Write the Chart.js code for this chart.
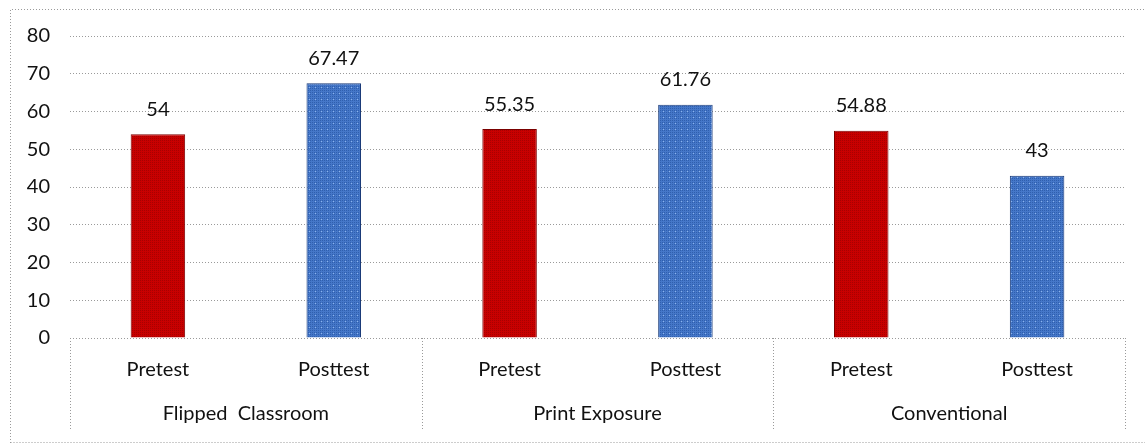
<!DOCTYPE html>
<html>
<head>
<meta charset="utf-8">
<script src="https://cdn.jsdelivr.net/npm/chart.js@4.4.0/dist/chart.umd.min.js"></script>
<style>
html, body { margin: 0; padding: 0; background: #fff; }
#wrap { position: absolute; left: 0; top: 0; width: 1145px; height: 444px; }
</style>
</head>
<body>
<div id="wrap"><canvas id="myChart" width="1145" height="444"></canvas></div>
<script>
const groups = ['Flipped  Classroom', 'Print Exposure', 'Conventional'];
const tests = ['Pretest', 'Posttest'];
const pretest = [54, 55.35, 54.88];
const posttest = [67.47, 61.76, 43];
const yTicks = [0, 10, 20, 30, 40, 50, 60, 70, 80];

const ctx = document.getElementById('myChart').getContext('2d');
const FONT = 'Lato, "Noto Sans", sans-serif';
const FSIZE = 20;
const TXT = '#111111';

// small textures like the office fill patterns
function makePattern(base, dot, light) {
    const c = document.createElement('canvas');
    c.width = 6; c.height = 6;
    const g = c.getContext('2d');
    g.fillStyle = base; g.fillRect(0, 0, 6, 6);
    g.fillStyle = dot;
    for (let y = 0; y < 6; y += 2)
        for (let x = 0; x < 6; x += 2) g.fillRect(x, y, 1, 1);
    if (light) { g.fillStyle = light; g.fillRect(3, 3, 1, 1); }
    return ctx.createPattern(c, 'repeat');
}
const redFill = makePattern('#c80000', '#a80000', null);
const blueFill = makePattern('#4577c8', '#2f5fae', '#8fb4e8');

// build the flat category table from the groups
let labels = [], values = [], fills = [], borders = [];
groups.forEach((g, i) => {
    labels.push(tests[0]); values.push(pretest[i]); fills.push(redFill); borders.push('#7a0000');
    labels.push(tests[1]); values.push(posttest[i]); fills.push(blueFill); borders.push('#1a3a78');
});

const dotted = '#9a9a9a';

const framePlugin = {
    id: 'frame',
    beforeDraw(chart) {
        const c = chart.ctx;
        c.save();
        c.strokeStyle = dotted;
        c.lineWidth = 1;
        c.setLineDash([1, 2]);
        c.beginPath();
        c.moveTo(10.5, 443); c.lineTo(10.5, 9.5); c.lineTo(1145, 9.5);
        c.moveTo(10.5, 442.5); c.lineTo(1145, 442.5);
        c.stroke();
        c.restore();
    },
    afterDraw(chart) {
        const c = chart.ctx;
        const x = chart.scales.x;
        const area = chart.chartArea;
        const half = (x.getPixelForTick(1) - x.getPixelForTick(0)) / 2;
        c.save();
        c.strokeStyle = dotted;
        c.setLineDash([1, 2]);
        c.beginPath();
        for (let i = 0; i <= groups.length; i++) {
            let px = i < groups.length ? x.getPixelForTick(i * 2) - half : x.getPixelForTick(labels.length - 1) + half;
            px = Math.round(px) + 0.5;
            c.moveTo(px, area.bottom);
            c.lineTo(px, 431);
        }
        c.stroke();
        c.setLineDash([]);
        c.fillStyle = TXT;
        c.font = FSIZE + 'px ' + FONT;
        c.textAlign = 'center';
        c.textBaseline = 'middle';
        groups.forEach((g, i) => {
            const cx = (x.getPixelForTick(i * 2) + x.getPixelForTick(i * 2 + 1)) / 2;
            c.fillText(g, cx, 414);
        });
        // value labels above the bars
        const meta = chart.getDatasetMeta(0);
        meta.data.forEach((bar, i) => {
            c.fillText(String(values[i]), bar.x, bar.y - 25);
        });
        c.restore();
    }
};

const myChart = new Chart(ctx, {
    type: 'bar',
    data: {
        labels: labels,
        datasets: [{
            data: values,
            backgroundColor: fills,
            borderColor: borders,
            borderWidth: 1,
            categoryPercentage: 1.0,
            barPercentage: 0.31
        }]
    },
    options: {
        responsive: false,
        animation: false,
        devicePixelRatio: 1,
        layout: { padding: { top: 36, right: 20, left: 0, bottom: 0 } },
        plugins: { legend: { display: false }, tooltip: { enabled: false } },
        scales: {
            x: {
                grid: { display: false, drawTicks: false },
                border: { display: false },
                ticks: { color: TXT, font: { family: FONT, size: FSIZE }, padding: 20, maxRotation: 0 },
                afterFit(scale) { scale.height = 106; }
            },
            y: {
                min: yTicks[0],
                max: yTicks[yTicks.length - 1],
                afterBuildTicks(scale) { scale.ticks = yTicks.map(v => ({ value: v })); },
                grid: { color: dotted, lineWidth: 1, drawTicks: false },
                border: { display: false, dash: [1, 2] },
                ticks: { color: TXT, font: { family: FONT, size: FSIZE }, padding: 20 },
                afterFit(scale) { scale.width = 70; }
            }
        }
    },
    plugins: [framePlugin]
});
</script>
</body>
</html>
